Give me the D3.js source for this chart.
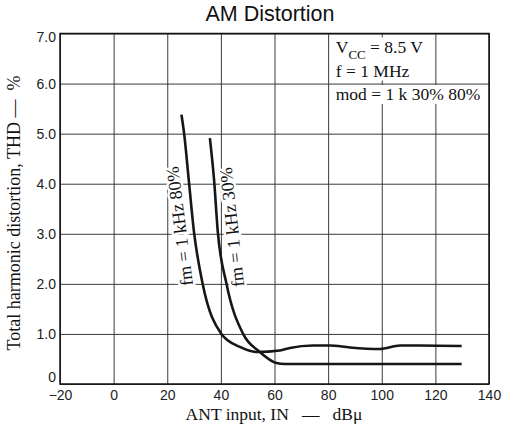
<!DOCTYPE html>
<html>
<head>
<meta charset="utf-8">
<script src="https://cdn.jsdelivr.net/npm/d3@7"></script>
<style>
  body { margin: 0; background: #fff; }
  svg { display: block; }
</style>
</head>
<body>
<svg id="chart" width="513" height="426"></svg>
<script>
// values
const xTicks = [-20, 0, 20, 40, 60, 80, 100, 120, 140];
const yTicks = [0, 1, 2, 3, 4, 5, 6, 7];

// fm = 1 kHz 80% modulation
const curve80 = [
  [25.3, 5.38], [26.3, 5.0], [28.1, 4.03], [29.9, 3.07], [33.2, 2.0], [40.2, 1.0],
  [47.1, 0.74], [53.3, 0.64], [62.0, 0.67], [65.7, 0.72], [74.3, 0.77], [80.6, 0.77],
  [88.1, 0.73], [99.3, 0.70], [106.8, 0.77], [114.2, 0.77], [129.8, 0.76]
];
// fm = 1 kHz 30% modulation
const curve30 = [
  [35.9, 4.91], [37.5, 4.05], [38.8, 3.07], [42.1, 2.0], [48.3, 1.0], [54.5, 0.64],
  [60.7, 0.42], [63.8, 0.4], [129.8, 0.4]
];

const legendLines = ['f = 1 MHz', 'mod = 1 k 30% 80%'];

const svg = d3.select('#chart');
const margins = { left: 60, top: 33.5, right: 24, bottom: 42 };
const width = +svg.attr('width') - margins.left - margins.right;
const height = +svg.attr('height') - margins.top - margins.bottom;

const x = d3.scaleLinear().domain([-20, 140]).range([0, width]);
const y = d3.scaleLinear().domain([0, 7]).range([height, 0]);

const chartArea = svg.append('g').attr('transform', `translate(${margins.left},${margins.top})`);

// gridlines
chartArea.append('g')
  .attr('transform', `translate(0,${height})`)
  .call(d3.axisBottom(x).tickValues(xTicks).tickSize(-height).tickFormat(''))
  .call(g => g.select('.domain').remove())
  .call(g => g.selectAll('line').attr('stroke', '#3a3a3a').attr('stroke-width', 1));
chartArea.append('g')
  .call(d3.axisLeft(y).tickValues(yTicks).tickSize(-width).tickFormat(''))
  .call(g => g.select('.domain').remove())
  .call(g => g.selectAll('line').attr('stroke', '#3a3a3a').attr('stroke-width', 1));

// frame
chartArea.append('rect')
  .attr('width', width).attr('height', height)
  .attr('fill', 'none').attr('stroke', '#111').attr('stroke-width', 1.5);

// tick labels
const xAxis = chartArea.append('g')
  .attr('transform', `translate(0,${height})`)
  .call(d3.axisBottom(x).tickValues(xTicks).tickSize(0).tickPadding(6));
xAxis.select('.domain').remove();
xAxis.selectAll('text')
  .attr('font-family', 'Liberation Sans, Arial, sans-serif')
  .attr('font-size', 14).attr('fill', '#222');

const yAxis = chartArea.append('g')
  .call(d3.axisLeft(y).tickValues(yTicks).tickSize(0).tickPadding(4)
    .tickFormat(d => d === 0 ? '0' : d3.format('.1f')(d)));
yAxis.select('.domain').remove();
yAxis.selectAll('text')
  .attr('font-family', 'Liberation Sans, Arial, sans-serif')
  .attr('font-size', 14).attr('fill', '#222')
  .attr('dy', d => d === 0 ? '-0.15em' : d === 7 ? '0.55em' : '0.32em');

// legend text with white backgrounds
const legend = chartArea.append('g');
const legendX = x(100) - 46;
function legendLine(yPos, build) {
  const bg = legend.append('rect').attr('fill', '#fff');
  const t = legend.append('text')
    .attr('x', legendX).attr('y', yPos)
    .attr('font-family', 'Liberation Serif, Times New Roman, serif')
    .attr('font-size', 17.5).attr('fill', '#111');
  build(t);
  const b = t.node().getBBox();
  bg.attr('x', b.x - 2).attr('y', b.y + 1).attr('width', b.width + 3).attr('height', b.height - 1);
}
legendLine(y(7) + 19, t => {
  t.append('tspan').text('V');
  t.append('tspan').attr('font-size', 13).attr('dy', 6).text('CC');
  t.append('tspan').attr('dy', -6).text(' = 8.5 V');
});
legendLines.forEach((s, i) => legendLine(y(7) + 43 + i * 23.5, t => t.text(s)));

// curves
const line = d3.line().x(d => x(d[0])).y(d => y(d[1])).curve(d3.curveMonotoneX);
[curve80, curve30].forEach(c => {
  chartArea.append('path')
    .datum(c)
    .attr('d', line)
    .attr('fill', 'none')
    .attr('stroke', '#161616')
    .attr('stroke-width', 2.6);
});

// curve labels
const curveLabels = [
  { text: 'fm = 1 kHz 80%', at: [24.5, 3.15], angle: -97 },
  { text: 'fm = 1 kHz 30%', at: [44.0, 3.13], angle: -96 }
];
curveLabels.forEach(l => {
  chartArea.append('text')
    .attr('transform', `translate(${x(l.at[0])},${y(l.at[1])}) rotate(${l.angle})`)
    .attr('text-anchor', 'middle')
    .attr('dy', '0.35em')
    .attr('font-family', 'Liberation Serif, Times New Roman, serif')
    .attr('font-size', 18)
    .attr('fill', '#111')
    .attr('stroke', '#fff').attr('stroke-width', 5).attr('paint-order', 'stroke')
    .text(l.text);
});

// titles
svg.append('text')
  .attr('x', 270).attr('y', 21)
  .attr('text-anchor', 'middle')
  .attr('font-family', 'Liberation Sans, Arial, sans-serif')
  .attr('font-size', 21.5).attr('fill', '#111')
  .text('AM Distortion');

svg.append('text')
  .attr('x', 274).attr('y', 420)
  .attr('text-anchor', 'middle')
  .attr('font-family', 'Liberation Serif, Times New Roman, serif')
  .attr('font-size', 17.5).attr('fill', '#111')
  .text('ANT input, IN \u00a0\u00a0\u2014\u00a0\u00a0 dB\u03bc');

svg.append('text')
  .attr('transform', `translate(20,213) rotate(-90)`)
  .attr('text-anchor', 'middle')
  .attr('font-family', 'Liberation Serif, Times New Roman, serif')
  .attr('font-size', 18).attr('fill', '#111')
  .text('Total harmonic distortion, THD \u2014\u00a0\u00a0%');
</script>
</body>
</html>
